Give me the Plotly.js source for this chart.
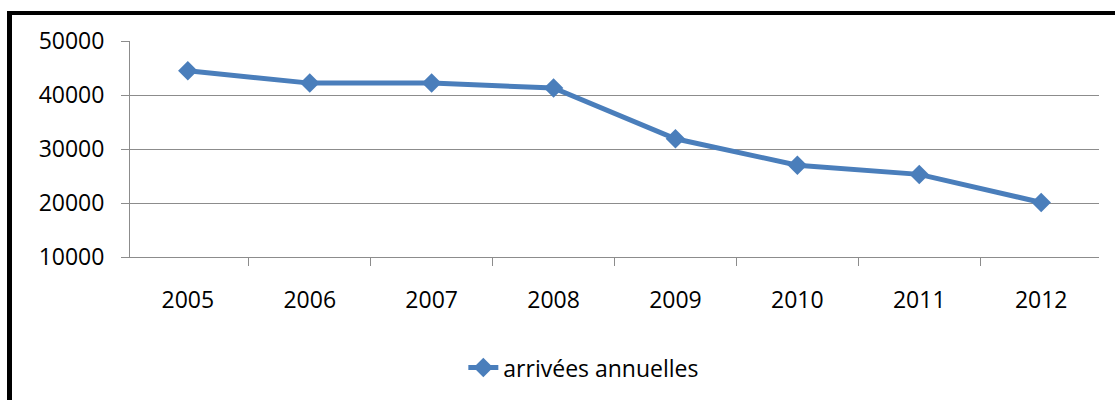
<!DOCTYPE html>
<html>
<head>
<meta charset="utf-8">
<script src="https://cdn.plot.ly/plotly-3.0.1.min.js"></script>
<style>
  html, body { margin: 0; padding: 0; background: #fff; width: 1115px; height: 400px; overflow: hidden; }
  #frame { position: absolute; left: 7px; top: 11px; border-left: 5px solid #000; border-top: 4px solid #000; width: 1108px; height: 385px; }
  #chart { width: 1103px; height: 385px; }
</style>
</head>
<body>
<div id="frame"><div id="chart"></div></div>
<script>
const years = ['2005', '2006', '2007', '2008', '2009', '2010', '2011', '2012'];
const arrivals = [44500, 42200, 42200, 41300, 31900, 27000, 25300, 20100];
const seriesName = 'arrivées annuelles';
const yTicks = [10000, 20000, 30000, 40000, 50000];

const lineColor = '#4a7ebb';
const gridColor = '#8c8c8c';
const font = { family: 'Open Sans, Noto Sans, sans-serif', size: 23, color: '#000' };

const trace = {
  x: years,
  y: arrivals,
  name: seriesName,
  type: 'scatter',
  mode: 'lines+markers',
  line: { color: lineColor, width: 5 },
  marker: { symbol: 'diamond', size: 15, color: lineColor },
  showlegend: true
};

const layout = {
  width: 1103,
  height: 385,
  margin: { l: 118, r: 16, t: 26, b: 142 },
  paper_bgcolor: '#fff',
  plot_bgcolor: '#fff',
  font: font,
  showlegend: true,
  legend: {
    orientation: 'h',
    x: 0.344, xanchor: 'left',
    y: -0.505, yanchor: 'middle',
    font: font,
    bgcolor: 'rgba(0,0,0,0)'
  },
  xaxis: {
    type: 'category',
    tickvals: years,
    ticktext: years,
    showline: true,
    linecolor: gridColor,
    linewidth: 1,
    ticks: 'outside',
    tickson: 'boundaries',
    ticklen: 8,
    tickcolor: gridColor,
    showgrid: false,
    zeroline: false,
    ticklabelstandoff: 22,
    tickfont: font,
    fixedrange: true
  },
  yaxis: {
    range: [10000, 50000],
    tickvals: yTicks,
    ticktext: yTicks.map(String),
    showline: true,
    linecolor: gridColor,
    linewidth: 1,
    ticks: 'outside',
    ticklen: 8,
    tickcolor: gridColor,
    showgrid: true,
    gridcolor: gridColor,
    gridwidth: 1,
    zeroline: false,
    ticklabelstandoff: 12,
    tickfont: font,
    fixedrange: true
  }
};

Plotly.newPlot('chart', [trace], layout, { displayModeBar: false, staticPlot: true });
</script>
</body>
</html>
